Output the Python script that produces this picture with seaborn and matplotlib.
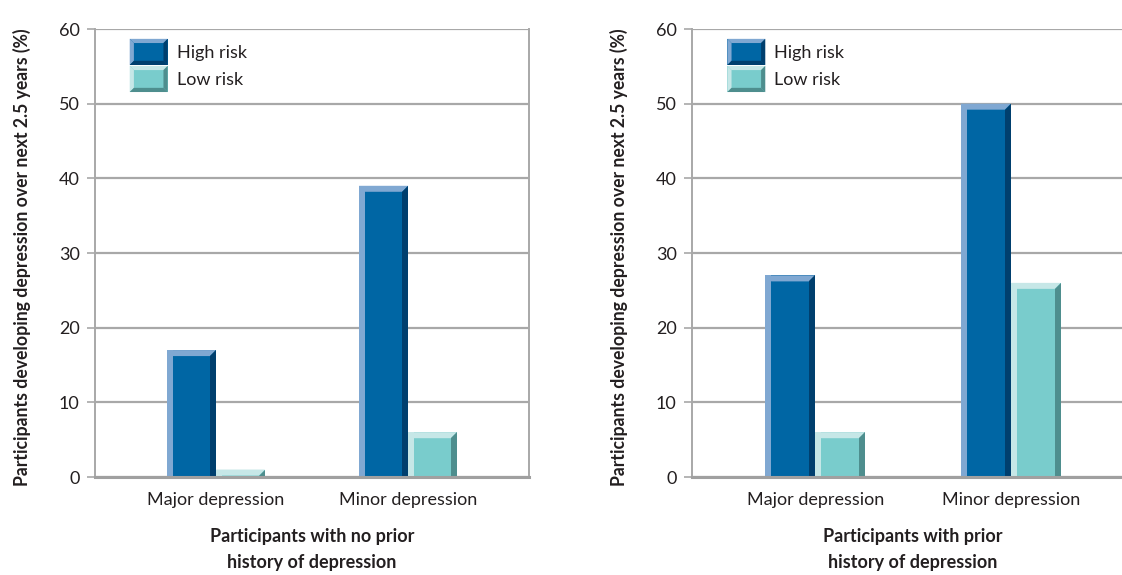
import matplotlib
matplotlib.use("Agg")
import matplotlib.pyplot as plt
from matplotlib.patches import Polygon
from matplotlib.legend_handler import HandlerBase
import seaborn as sns
import pandas as pd

categories = ["Major depression", "Minor depression"]
risk_levels = ["High risk", "Low risk"]
no_prior_high = [17, 39]
no_prior_low = [1, 6]
prior_high = [27, 50]
prior_low = [6, 26]
panel_titles = ["Participants with no prior\nhistory of depression",
                "Participants with prior\nhistory of depression"]
y_label = "Participants developing depression over next 2.5 years (%)"
y_ticks = [0, 10, 20, 30, 40, 50, 60]

# main / light bevel / dark bevel shades per risk group
shades = {
    "High risk": ("#0066a4", "#80a8d2", "#003f6e"),
    "Low risk": ("#79cccc", "#c6e7e7", "#4e8e8e"),
}

sns.set_theme(style="white")
plt.rcParams["font.family"] = ["Lato", "DejaVu Sans"]
TEXT = "#231f20"
GRID = "#a8a8a8"


def frame(high, low):
    return pd.DataFrame({
        "category": categories * 2,
        "risk": [risk_levels[0]] * 2 + [risk_levels[1]] * 2,
        "value": list(high) + list(low),
    })


def bevel_bars(ax, fig):
    """Give each bar a lit left/top edge and a shaded right edge."""
    fig.canvas.draw()
    bbox = ax.get_window_extent()
    x0, x1 = ax.get_xlim()
    y0, y1 = ax.get_ylim()
    bx = 6.0 * (x1 - x0) / bbox.width
    ty = 6.0 * (y1 - y0) / bbox.height
    for container, level in zip(ax.containers, risk_levels):
        main, light, dark = shades[level]
        for rect in container:
            x, w, h = rect.get_x(), rect.get_width(), rect.get_height()
            rect.set_facecolor(main)
            rect.set_edgecolor("none")
            rect.set_zorder(2)
            t = min(ty, h)
            ax.add_patch(Polygon([(x, 0), (x + bx, 0), (x + bx, h), (x, h)],
                                 closed=True, fc=light, ec="none", zorder=3))
            ax.add_patch(Polygon([(x, h), (x + w, h), (x + w - bx, h - t), (x + bx, h - t)],
                                 closed=True, fc=light, ec="none", zorder=3))
            ax.add_patch(Polygon([(x + w, h), (x + w, 0), (x + w - bx, 0), (x + w - bx, h - t)],
                                 closed=True, fc=dark, ec="none", zorder=3))


class BevelHandler(HandlerBase):
    def __init__(self, level):
        super().__init__()
        self.level = level

    def create_artists(self, legend, orig_handle, xdescent, ydescent,
                       width, height, fontsize, trans):
        main, light, dark = shades[self.level]
        x, y = -xdescent, -ydescent
        b = 0.16 * height
        arts = [
            Polygon([(x, y), (x + width, y), (x + width, y + height), (x, y + height)],
                    closed=True, fc=main, ec="none"),
            Polygon([(x, y), (x + b, y + b), (x + b, y + height - b), (x, y + height)],
                    closed=True, fc=light, ec="none"),
            Polygon([(x, y + height), (x + width, y + height), (x + width - b, y + height - b),
                     (x + b, y + height - b)], closed=True, fc=light, ec="none"),
            Polygon([(x + width, y + height), (x + width, y), (x + width - b, y + b),
                     (x + width - b, y + height - b)], closed=True, fc=dark, ec="none"),
            Polygon([(x, y), (x + width, y), (x + width - b, y + b), (x + b, y + b)],
                    closed=True, fc=dark, ec="none"),
        ]
        for a in arts:
            a.set_transform(trans)
        return arts


fig = plt.figure(figsize=(11.22, 5.75), dpi=100)
ax_left = fig.add_axes([95 / 1122, 1 - 477 / 575, 434 / 1122, 448 / 575])
ax_right = fig.add_axes([692 / 1122, 1 - 477 / 575, 442 / 1122, 448 / 575])

panels = [
    (ax_left, no_prior_high, no_prior_low, panel_titles[0], 434),
    (ax_right, prior_high, prior_low, panel_titles[1], 442),
]

for ax, high, low, title, width_px in panels:
    df = frame(high, low)
    sns.barplot(data=df, x="category", y="value", hue="risk",
                hue_order=risk_levels, order=categories, width=0.51,
                palette=[shades[r][0] for r in risk_levels],
                ax=ax, legend=False, saturation=1, errorbar=None)
    ax.set_xlim(-0.63, 1.63)
    ax.set_ylim(0, 60)
    ax.set_yticks(y_ticks)
    ax.set_yticklabels([str(v) for v in y_ticks])
    ax.yaxis.grid(True, color=GRID, linewidth=1.6, zorder=0)
    ax.set_axisbelow(True)
    ax.tick_params(axis="y", length=6, width=1.2, color=GRID, pad=5,
                   labelsize=13, labelcolor=TEXT, left=True)
    ax.tick_params(axis="x", length=0, pad=11, labelsize=13, labelcolor=TEXT)
    for side in ["left", "right"]:
        ax.spines[side].set_color(GRID)
        ax.spines[side].set_linewidth(1.4)
    ax.spines["top"].set_visible(False)
    ax.spines["bottom"].set_color("#a0a0a0")
    ax.spines["bottom"].set_linewidth(2.2)
    ax.spines["bottom"].set_zorder(5)
    ax.set_xlabel(title, fontsize=13, fontweight="bold", color=TEXT,
                  labelpad=14, linespacing=1.65)
    ax.set_ylabel(y_label, fontsize=12.7, fontweight="bold", color=TEXT)
    # y title sits about 64 px left of the axis line
    ax.yaxis.set_label_coords(-64 / width_px, 0.49)

    handles = [plt.Rectangle((0, 0), 1, 1) for _ in risk_levels]
    ax.legend(handles, risk_levels,
              handler_map={h: BevelHandler(r) for h, r in zip(handles, risk_levels)},
              loc="upper left", bbox_to_anchor=(0.08, 0.978), frameon=False,
              borderpad=0, borderaxespad=0, labelspacing=0.05, handlelength=2.1,
              handleheight=1.85, handletextpad=0.5, fontsize=13, labelcolor=TEXT)

ax_right.spines["right"].set_visible(False)

for ax in (ax_left, ax_right):
    bevel_bars(ax, fig)

fig.savefig("out.png", dpi=100)
